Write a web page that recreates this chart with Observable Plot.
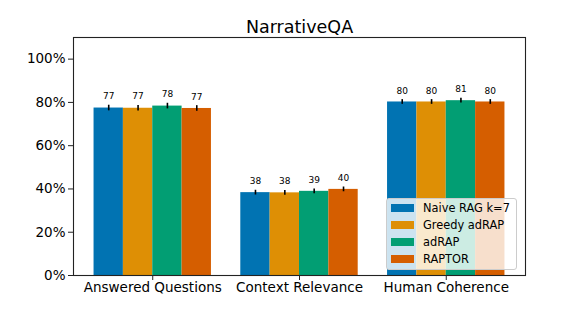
<!DOCTYPE html>
<html>
<head>
<meta charset="utf-8">
<script src="https://cdn.jsdelivr.net/npm/d3@7"></script>
<script src="https://cdn.jsdelivr.net/npm/@observablehq/plot@0.6"></script>
<style>
  body { margin: 0; background: white; }
  #wrap { position: relative; width: 581px; height: 310px; font-family: "DejaVu Sans", sans-serif; }
  #legend { position: absolute; left: 386px; top: 198px; width: 129px; height: 70px;
    background: rgba(255,255,255,0.8); border: 1px solid #cccccc; border-radius: 3px; }
  .row { height: 17px; display: flex; align-items: center; font-size: 11.4px; color: #000; }
  .sw { width: 23px; height: 8px; margin-left: 4px; margin-right: 9px; }
</style>
</head>
<body>
<div id="wrap"></div>
<script>
const title = "NarrativeQA";
const categories = ["Answered Questions", "Context Relevance", "Human Coherence"];
const series = ["Naive RAG k=7", "Greedy adRAP", "adRAP", "RAPTOR"];
const colors = ["#0173b2", "#de8f05", "#029e73", "#d55e00"];
// values in percent, per series, one per category
const naive  = [77.4, 38.3, 80.2];
const greedy = [77.3, 38.2, 80.2];
const adrap  = [78.3, 38.9, 80.8];
const raptor = [77.2, 39.8, 80.2];
// error (half-length) in percent
const naiveErr  = [1.3, 1.1, 1.1];
const greedyErr = [1.3, 1.1, 1.1];
const adrapErr  = [1.3, 1.1, 1.1];
const raptorErr = [1.3, 1.1, 1.1];
const yTicks = [0, 0.2, 0.4, 0.6, 0.8, 1.0];

const vals = [naive, greedy, adrap, raptor];
const errs = [naiveErr, greedyErr, adrapErr, raptorErr];
const barW = 0.2;
const rows = [];
categories.forEach((c, ci) => {
  series.forEach((s, si) => {
    const xc = ci + (si - (series.length - 1) / 2) * barW;
    rows.push({cat: c, series: s, xc, x1: xc - barW / 2, x2: xc + barW / 2,
      v: vals[si][ci] / 100, e: errs[si][ci] / 100, label: String(Math.round(vals[si][ci]))});
  });
});

const chart = Plot.plot({
  width: 581, height: 310,
  marginLeft: 73, marginRight: 56, marginTop: 37, marginBottom: 35,
  style: {fontFamily: "DejaVu Sans", background: "white", color: "#000", overflow: "visible"},
  x: {domain: [-0.54, 2.54], label: null},
  y: {domain: [0, 1.1], label: null},
  color: {domain: series, range: colors},
  marks: [
    Plot.rectY(rows, {x1: "x1", x2: "x2", y1: 0, y2: "v", fill: "series"}),
    Plot.ruleX(rows, {x: "xc", y1: d => d.v - d.e, y2: d => d.v + d.e, stroke: "black", strokeWidth: 1.6}),
    Plot.text(rows, {x: "xc", y: d => d.v + d.e, text: "label", lineAnchor: "bottom", dy: -6, fontSize: 9, fill: "black"}),
    Plot.frame({stroke: "#222", strokeWidth: 1.1}),
    Plot.axisX({ticks: [0, 1, 2], tickFormat: i => categories[i], tickSize: 5, tickPadding: 2, fontSize: 13.5, label: null, stroke: "#222"}),
    Plot.axisY({ticks: yTicks, tickFormat: d3.format(".0%"), tickSize: 5, tickPadding: 3, fontSize: 13.5, label: null, stroke: "#222"}),
    Plot.text([title], {frameAnchor: "top", lineAnchor: "bottom", dy: -5, fontSize: 17.5, text: d => d, fill: "black"})
  ]
});
const wrap = document.getElementById("wrap");
wrap.appendChild(chart);

const legend = document.createElement("div");
legend.id = "legend";
series.forEach((s, i) => {
  const r = document.createElement("div");
  r.className = "row";
  const sw = document.createElement("span");
  sw.className = "sw";
  sw.style.background = colors[i];
  r.appendChild(sw);
  r.appendChild(document.createTextNode(s));
  legend.appendChild(r);
});
wrap.appendChild(legend);
</script>
</body>
</html>
